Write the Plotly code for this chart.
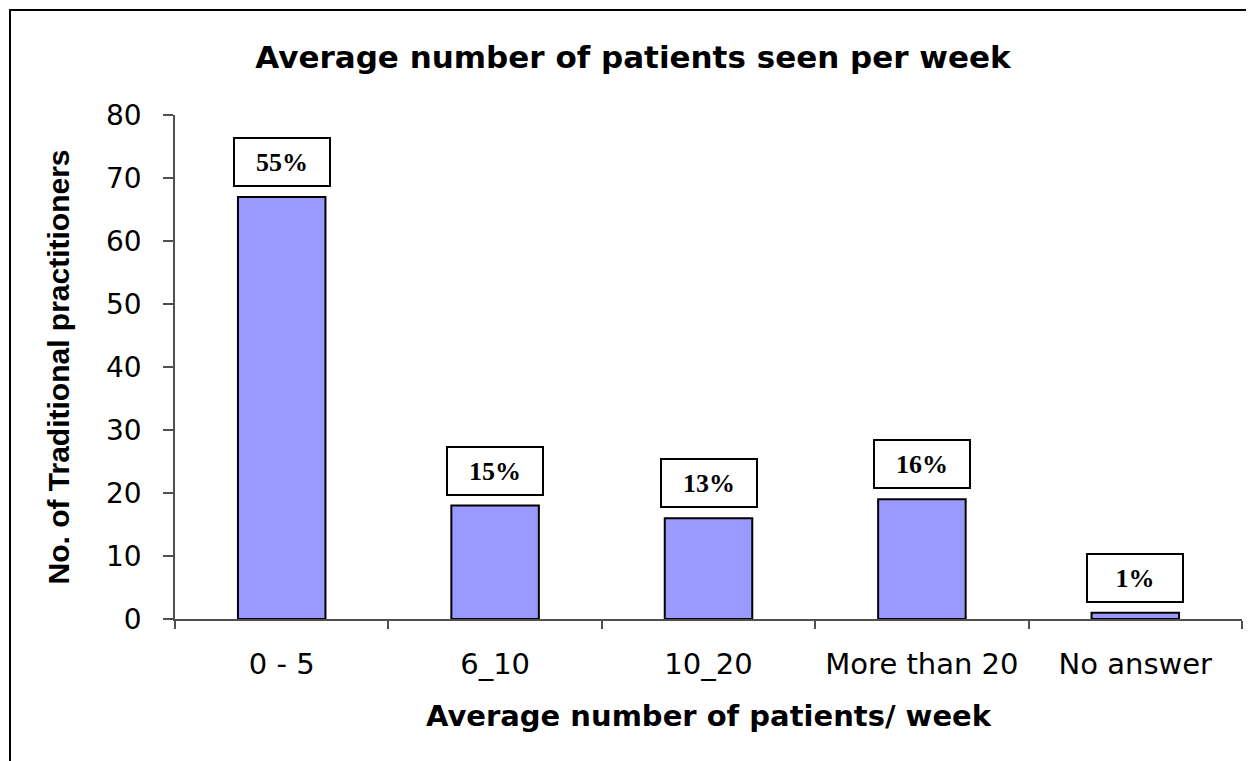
import plotly.graph_objects as go

categories = ["0 - 5", "6_10", "10_20", "More than 20", "No answer"]
counts = [67, 18, 16, 19, 1]
pct_labels = ["55%", "15%", "13%", "16%", "1%"]
y_ticks = [0, 10, 20, 30, 40, 50, 60, 70, 80]

W, H = 1246, 753
ML, MR, MT, MB = 167, 12, 107, 142
PW, PH = W - ML - MR, H - MT - MB

fig = go.Figure()
fig.add_trace(go.Bar(
    x=categories, y=counts,
    marker=dict(color="#9999FF", line=dict(color="#000000", width=2)),
    width=0.41,
    hoverinfo="skip",
))

for c, v, t in zip(categories, counts, pct_labels):
    fig.add_annotation(
        x=c, y=v, xref="x", yref="y", text="<b>" + t + "</b>",
        showarrow=False, yanchor="bottom", yshift=10,
        font=dict(family="Liberation Serif, Times New Roman, serif", size=26, color="#000000"),
        bordercolor="#000000", borderwidth=2, bgcolor="#FFFFFF",
        width=92, height=44,
    )

fig.add_shape(type="rect", xref="paper", yref="paper",
              x0=(2 - ML) / PW, x1=1.3, y0=-0.5, y1=(H - MB - 2) / PH,
              line=dict(color="#000000", width=2), fillcolor="rgba(0,0,0,0)", layer="below")

fig.update_layout(
    width=W, height=H,
    margin=dict(l=ML, r=MR, t=MT, b=MB),
    paper_bgcolor="#FFFFFF", plot_bgcolor="#FFFFFF",
    showlegend=False,
    font=dict(family="DejaVu Sans, Arial, sans-serif", color="#000000"),
    title=dict(text="<b>Average number of patients seen per week</b>",
               x=625 / W, xanchor="center", xref="container",
               y=1 - 49 / H, yanchor="middle", yref="container",
               font=dict(size=31, color="#000000")),
    xaxis=dict(
        title=dict(text="<b>Average number of patients/ week</b>", font=dict(size=29), standoff=26),
        showline=True, linecolor="#505050", linewidth=1.5,
        ticks="outside", ticklen=8, tickcolor="#505050", tickwidth=1.5,
        tickson="boundaries", tickfont=dict(size=29), ticklabelstandoff=18,
        showgrid=False, zeroline=False,
    ),
    yaxis=dict(
        title=dict(text="<b>No. of Traditional practitioners</b>",
                   font=dict(size=30, family="Liberation Sans, Arial, sans-serif"), standoff=28),
        range=[0, 80], tickvals=y_ticks,
        showline=True, linecolor="#505050", linewidth=1.5,
        ticks="outside", ticklen=10, tickcolor="#505050", tickwidth=1.5,
        tickfont=dict(size=28), ticklabelstandoff=16,
        showgrid=False, zeroline=False,
    ),
)

fig.write_html("out.html")
